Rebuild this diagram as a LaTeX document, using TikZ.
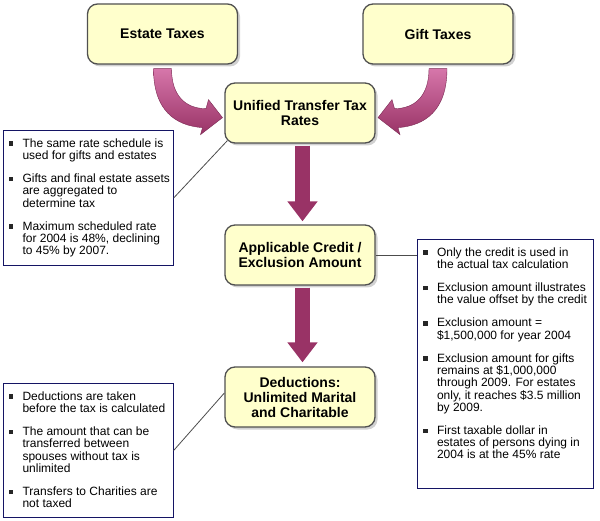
\documentclass[tikz,border=0pt]{standalone}
\usepackage{fontspec}
\setmainfont{Liberation Sans}
\usetikzlibrary{arrows.meta,shadows}

\definecolor{boxfill}{RGB}{255,255,204}
\definecolor{boxline}{RGB}{80,80,80}
\definecolor{noteline}{RGB}{20,20,100}
\definecolor{arrowplum}{RGB}{153,51,102}
\definecolor{arrowpink}{RGB}{214,118,170}

% bullet list inside the note boxes
\newcommand{\bulsq}{\hspace*{5.5pt}{\color{black!85}\rule[1.3pt]{4.5pt}{4.5pt}}}
\newcommand{\titem}[1]{\par\hangindent=19.5pt\hangafter=1\noindent\makebox[19.5pt][l]{\bulsq}#1\par\vspace{10.7pt}}
\newcommand{\notetext}[3]{\parbox[c][#2pt][t]{#1pt}{\fontsize{12}{12.3}\selectfont\lineskiplimit=-20pt\rightskip=0pt plus 1fil\vspace*{8pt}#3}}

\begin{document}
\begin{tikzpicture}[x=1pt,y=-1pt,
	taxbox/.style={draw=boxline, line width=1.3pt, fill=boxfill, rounded corners=10pt,
		minimum width=150pt, minimum height=60pt, align=center, inner sep=2pt,
		font=\fontsize{14}{15}\selectfont\bfseries,
		drop shadow={shadow xshift=2.5pt, shadow yshift=-2.5pt, fill=black!30, opacity=.6}},
	notebox/.style={draw=noteline, line width=1.1pt, fill=white, inner sep=0pt, anchor=north west},
	bigarrow/.style={draw=arrowplum, line width=15pt, -{Triangle[width=29pt,length=20pt]}},
	curvearrow/.style={top color=arrowpink, bottom color=arrowplum, draw=arrowplum!80!black, line width=.4pt},
	link/.style={draw=black!70, line width=.8pt}]
	\useasboundingbox (0,0) rectangle (600,521);

	% TAXES
	\node[taxbox] (estate) at (162.5,34) {Estate Taxes};
	\node[taxbox] (gift) at (438,34) {Gift Taxes};
	\node[taxbox] (unified) at (300,113) {Unified Transfer Tax\\Rates};
	\node[taxbox] (applicable) at (300,255) {Applicable Credit /\\Exclusion Amount};
	\node[taxbox] (deductions) at (300,397) {Deductions:\\Unlimited Marital\\and Charitable};

	% NOTES
	\node[notebox] (ratesnote) at (2.5,130) {\notetext{170}{135}{
		\titem{The same rate schedule is\\used for gifts and estates}
		\titem{Gifts and final estate assets\\are aggregated to\\determine tax}
		\titem{Maximum scheduled rate\\for 2004 is 48\%, declining\\to 45\% by 2007.}}};
	\node[notebox] (creditnote) at (417,239) {\notetext{176}{249}{
		\titem{Only the credit is used in\\the actual tax calculation}
		\titem{Exclusion amount illustrates\\the value offset by the credit}
		\titem{Exclusion amount =\\\$1,500,000 for year 2004}
		\titem{Exclusion amount for gifts\\remains at \$1,000,000\\through 2009. For estates\\only, it reaches \$3.5 million\\by 2009.}
		\titem{First taxable dollar in\\estates of persons dying in\\2004 is at the 45\% rate}}};
	\node[notebox] (deductnote) at (2.5,383) {\notetext{170}{134}{
		\titem{Deductions are taken\\before the tax is calculated}
		\titem{The amount that can be\\transferred between\\spouses without tax is\\unlimited}
		\titem{Transfers to Charities are\\not taxed}}};

	% CURVED ARROWS
	\begin{scope}[shift={(estate.south)}]
		\path[curvearrow] (-9,4) .. controls (-9,46) and (13,61) .. (40,63) -- (38,70) -- (60,53)
			-- (46,35) -- (43.5,44) .. controls (23,44) and (9,31) .. (9,4) -- cycle;
	\end{scope}
	\begin{scope}[shift={(gift.south)}, xscale=-1]
		\path[curvearrow] (-9,4) .. controls (-9,46) and (13,61) .. (40,63) -- (38,70) -- (60,53)
			-- (46,35) -- (43.5,44) .. controls (23,44) and (9,31) .. (9,4) -- cycle;
	\end{scope}

	% DOWN ARROWS
	\draw[bigarrow, shorten <=2pt, shorten >=3pt] ([xshift=2.5pt]unified.south) -- ([xshift=2.5pt]applicable.north);
	\draw[bigarrow, shorten <=2pt, shorten >=4pt] ([xshift=2.5pt]applicable.south) -- ([xshift=2.5pt]deductions.north);

	% LINKS
	\draw[link] (ratesnote.east) -- ([shift={(3pt,3pt)}]unified.south west);
	\draw[link] (applicable.east) -- (applicable.east -| creditnote.west);
	\draw[link] (deductnote.east) -- ([yshift=4pt]deductions.west);
\end{tikzpicture}
\end{document}
